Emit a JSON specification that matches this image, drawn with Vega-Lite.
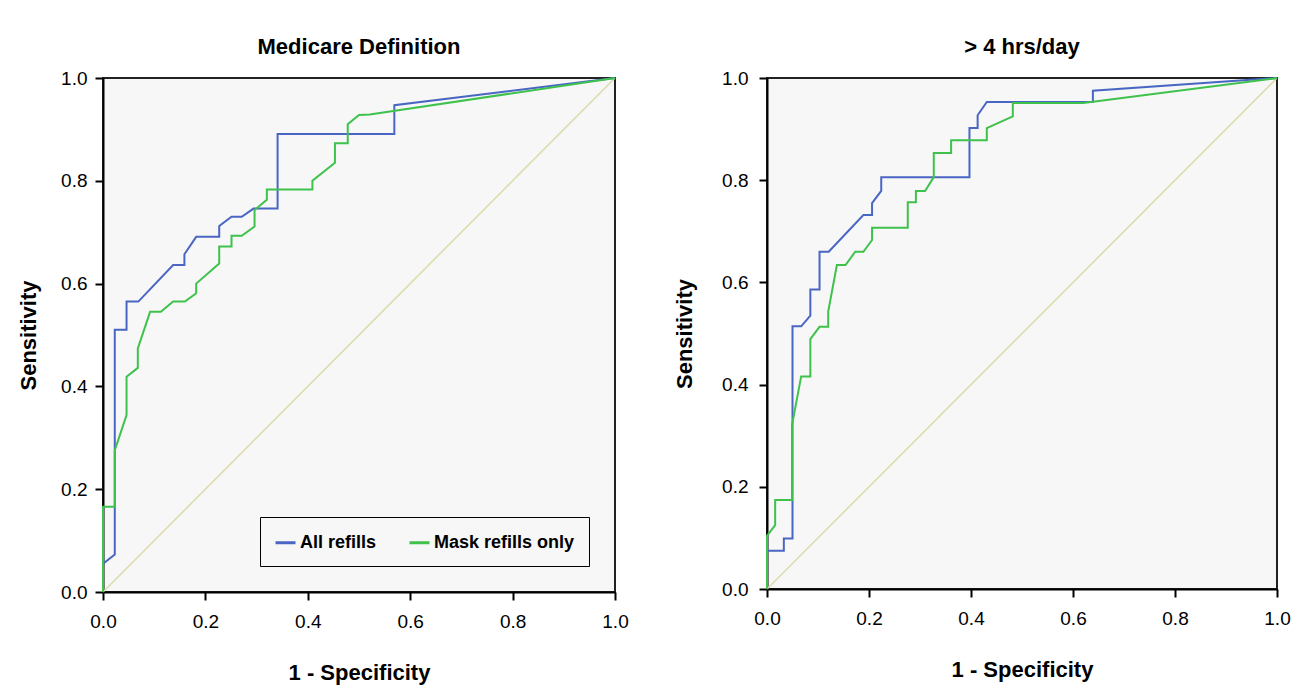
{
  "$schema": "https://vega.github.io/schema/vega-lite/v6.json",
  "background": "white",
  "padding": {"left": 16, "top": 35, "right": 5, "bottom": 5},
  "spacing": 42,
  "datasets": {
    "diag": [{"fpr": 0, "tpr": 0}, {"fpr": 1, "tpr": 1}],
    "medicare": [
      {"series": "All refills", "ord": 1, "fpr": 0, "tpr": 0},
      {"series": "All refills", "ord": 2, "fpr": 0, "tpr": 0.055},
      {"series": "All refills", "ord": 3, "fpr": 0.023, "tpr": 0.073},
      {"series": "All refills", "ord": 4, "fpr": 0.023, "tpr": 0.51},
      {"series": "All refills", "ord": 5, "fpr": 0.046, "tpr": 0.51},
      {"series": "All refills", "ord": 6, "fpr": 0.046, "tpr": 0.565},
      {"series": "All refills", "ord": 7, "fpr": 0.069, "tpr": 0.565},
      {"series": "All refills", "ord": 8, "fpr": 0.137, "tpr": 0.636},
      {"series": "All refills", "ord": 9, "fpr": 0.159, "tpr": 0.636},
      {"series": "All refills", "ord": 10, "fpr": 0.159, "tpr": 0.657},
      {"series": "All refills", "ord": 11, "fpr": 0.182, "tpr": 0.691},
      {"series": "All refills", "ord": 12, "fpr": 0.227, "tpr": 0.691},
      {"series": "All refills", "ord": 13, "fpr": 0.227, "tpr": 0.712},
      {"series": "All refills", "ord": 14, "fpr": 0.251, "tpr": 0.73},
      {"series": "All refills", "ord": 15, "fpr": 0.271, "tpr": 0.73},
      {"series": "All refills", "ord": 16, "fpr": 0.294, "tpr": 0.746},
      {"series": "All refills", "ord": 17, "fpr": 0.341, "tpr": 0.746},
      {"series": "All refills", "ord": 18, "fpr": 0.341, "tpr": 0.891},
      {"series": "All refills", "ord": 19, "fpr": 0.569, "tpr": 0.891},
      {"series": "All refills", "ord": 20, "fpr": 0.569, "tpr": 0.947},
      {"series": "All refills", "ord": 21, "fpr": 1, "tpr": 1},
      {"series": "Mask refills only", "ord": 1, "fpr": 0, "tpr": 0},
      {"series": "Mask refills only", "ord": 2, "fpr": 0, "tpr": 0.166},
      {"series": "Mask refills only", "ord": 3, "fpr": 0.023, "tpr": 0.166},
      {"series": "Mask refills only", "ord": 4, "fpr": 0.023, "tpr": 0.276},
      {"series": "Mask refills only", "ord": 5, "fpr": 0.046, "tpr": 0.344},
      {"series": "Mask refills only", "ord": 6, "fpr": 0.046, "tpr": 0.419},
      {"series": "Mask refills only", "ord": 7, "fpr": 0.068, "tpr": 0.436},
      {"series": "Mask refills only", "ord": 8, "fpr": 0.068, "tpr": 0.474},
      {"series": "Mask refills only", "ord": 9, "fpr": 0.092, "tpr": 0.545},
      {"series": "Mask refills only", "ord": 10, "fpr": 0.113, "tpr": 0.545},
      {"series": "Mask refills only", "ord": 11, "fpr": 0.137, "tpr": 0.565},
      {"series": "Mask refills only", "ord": 12, "fpr": 0.16, "tpr": 0.565},
      {"series": "Mask refills only", "ord": 13, "fpr": 0.182, "tpr": 0.581},
      {"series": "Mask refills only", "ord": 14, "fpr": 0.182, "tpr": 0.6},
      {"series": "Mask refills only", "ord": 15, "fpr": 0.227, "tpr": 0.639},
      {"series": "Mask refills only", "ord": 16, "fpr": 0.227, "tpr": 0.672},
      {"series": "Mask refills only", "ord": 17, "fpr": 0.251, "tpr": 0.672},
      {"series": "Mask refills only", "ord": 18, "fpr": 0.251, "tpr": 0.693},
      {"series": "Mask refills only", "ord": 19, "fpr": 0.271, "tpr": 0.693},
      {"series": "Mask refills only", "ord": 20, "fpr": 0.296, "tpr": 0.711},
      {"series": "Mask refills only", "ord": 21, "fpr": 0.296, "tpr": 0.743},
      {"series": "Mask refills only", "ord": 22, "fpr": 0.32, "tpr": 0.763},
      {"series": "Mask refills only", "ord": 23, "fpr": 0.32, "tpr": 0.783},
      {"series": "Mask refills only", "ord": 24, "fpr": 0.409, "tpr": 0.783},
      {"series": "Mask refills only", "ord": 25, "fpr": 0.409, "tpr": 0.8},
      {"series": "Mask refills only", "ord": 26, "fpr": 0.453, "tpr": 0.835},
      {"series": "Mask refills only", "ord": 27, "fpr": 0.453, "tpr": 0.873},
      {"series": "Mask refills only", "ord": 28, "fpr": 0.478, "tpr": 0.873},
      {"series": "Mask refills only", "ord": 29, "fpr": 0.478, "tpr": 0.91},
      {"series": "Mask refills only", "ord": 30, "fpr": 0.5, "tpr": 0.928},
      {"series": "Mask refills only", "ord": 31, "fpr": 0.521, "tpr": 0.929},
      {"series": "Mask refills only", "ord": 32, "fpr": 1, "tpr": 1}
    ],
    "hrs": [
      {"series": "All refills", "ord": 1, "fpr": 0, "tpr": 0},
      {"series": "All refills", "ord": 2, "fpr": 0, "tpr": 0.075},
      {"series": "All refills", "ord": 3, "fpr": 0.033, "tpr": 0.075},
      {"series": "All refills", "ord": 4, "fpr": 0.033, "tpr": 0.099},
      {"series": "All refills", "ord": 5, "fpr": 0.05, "tpr": 0.099},
      {"series": "All refills", "ord": 6, "fpr": 0.05, "tpr": 0.514},
      {"series": "All refills", "ord": 7, "fpr": 0.067, "tpr": 0.514},
      {"series": "All refills", "ord": 8, "fpr": 0.085, "tpr": 0.535},
      {"series": "All refills", "ord": 9, "fpr": 0.085, "tpr": 0.586},
      {"series": "All refills", "ord": 10, "fpr": 0.103, "tpr": 0.586},
      {"series": "All refills", "ord": 11, "fpr": 0.103, "tpr": 0.66},
      {"series": "All refills", "ord": 12, "fpr": 0.121, "tpr": 0.66},
      {"series": "All refills", "ord": 13, "fpr": 0.189, "tpr": 0.732},
      {"series": "All refills", "ord": 14, "fpr": 0.206, "tpr": 0.732},
      {"series": "All refills", "ord": 15, "fpr": 0.206, "tpr": 0.755},
      {"series": "All refills", "ord": 16, "fpr": 0.224, "tpr": 0.779},
      {"series": "All refills", "ord": 17, "fpr": 0.224, "tpr": 0.806},
      {"series": "All refills", "ord": 18, "fpr": 0.397, "tpr": 0.806},
      {"series": "All refills", "ord": 19, "fpr": 0.397, "tpr": 0.902},
      {"series": "All refills", "ord": 20, "fpr": 0.413, "tpr": 0.902},
      {"series": "All refills", "ord": 21, "fpr": 0.413, "tpr": 0.927},
      {"series": "All refills", "ord": 22, "fpr": 0.431, "tpr": 0.953},
      {"series": "All refills", "ord": 23, "fpr": 0.639, "tpr": 0.953},
      {"series": "All refills", "ord": 24, "fpr": 0.639, "tpr": 0.975},
      {"series": "All refills", "ord": 25, "fpr": 1, "tpr": 1},
      {"series": "Mask refills only", "ord": 1, "fpr": 0, "tpr": 0},
      {"series": "Mask refills only", "ord": 2, "fpr": 0, "tpr": 0.104},
      {"series": "Mask refills only", "ord": 3, "fpr": 0.016, "tpr": 0.125},
      {"series": "Mask refills only", "ord": 4, "fpr": 0.016, "tpr": 0.174},
      {"series": "Mask refills only", "ord": 5, "fpr": 0.049, "tpr": 0.174},
      {"series": "Mask refills only", "ord": 6, "fpr": 0.049, "tpr": 0.321},
      {"series": "Mask refills only", "ord": 7, "fpr": 0.067, "tpr": 0.416},
      {"series": "Mask refills only", "ord": 8, "fpr": 0.085, "tpr": 0.416},
      {"series": "Mask refills only", "ord": 9, "fpr": 0.085, "tpr": 0.489},
      {"series": "Mask refills only", "ord": 10, "fpr": 0.103, "tpr": 0.513},
      {"series": "Mask refills only", "ord": 11, "fpr": 0.12, "tpr": 0.513},
      {"series": "Mask refills only", "ord": 12, "fpr": 0.12, "tpr": 0.543},
      {"series": "Mask refills only", "ord": 13, "fpr": 0.137, "tpr": 0.634},
      {"series": "Mask refills only", "ord": 14, "fpr": 0.154, "tpr": 0.634},
      {"series": "Mask refills only", "ord": 15, "fpr": 0.173, "tpr": 0.66},
      {"series": "Mask refills only", "ord": 16, "fpr": 0.189, "tpr": 0.66},
      {"series": "Mask refills only", "ord": 17, "fpr": 0.206, "tpr": 0.683},
      {"series": "Mask refills only", "ord": 18, "fpr": 0.206, "tpr": 0.707},
      {"series": "Mask refills only", "ord": 19, "fpr": 0.276, "tpr": 0.707},
      {"series": "Mask refills only", "ord": 20, "fpr": 0.276, "tpr": 0.757},
      {"series": "Mask refills only", "ord": 21, "fpr": 0.292, "tpr": 0.757},
      {"series": "Mask refills only", "ord": 22, "fpr": 0.292, "tpr": 0.779},
      {"series": "Mask refills only", "ord": 23, "fpr": 0.31, "tpr": 0.779},
      {"series": "Mask refills only", "ord": 24, "fpr": 0.327, "tpr": 0.806},
      {"series": "Mask refills only", "ord": 25, "fpr": 0.327, "tpr": 0.853},
      {"series": "Mask refills only", "ord": 26, "fpr": 0.361, "tpr": 0.853},
      {"series": "Mask refills only", "ord": 27, "fpr": 0.361, "tpr": 0.878},
      {"series": "Mask refills only", "ord": 28, "fpr": 0.431, "tpr": 0.878},
      {"series": "Mask refills only", "ord": 29, "fpr": 0.431, "tpr": 0.902},
      {"series": "Mask refills only", "ord": 30, "fpr": 0.482, "tpr": 0.925},
      {"series": "Mask refills only", "ord": 31, "fpr": 0.482, "tpr": 0.951},
      {"series": "Mask refills only", "ord": 32, "fpr": 0.62, "tpr": 0.951},
      {"series": "Mask refills only", "ord": 33, "fpr": 1, "tpr": 1}
    ]
  },
  "config": {
    "font": "Liberation Sans",
    "view": {"fill": "#f7f7f7", "stroke": "#222222", "strokeWidth": 2},
    "axis": {
      "domainColor": "#000000", "domainWidth": 2,
      "tickColor": "#000000", "tickWidth": 2, "tickSize": 8,
      "labelFont": "Liberation Sans", "labelFontSize": 19, "labelColor": "#000000",
      "titleFont": "Liberation Sans", "titleFontSize": 22, "titleFontWeight": "bold", "titleColor": "#000000",
      "grid": false, "labelFlush": false
    },
    "title": {"font": "Liberation Sans", "fontSize": 22, "fontWeight": "bold", "color": "#000000", "offset": 10}
  },
  "resolve": {"scale": {"color": "independent"}, "legend": {"color": "independent"}},
  "hconcat": [
    {
      "title": "Medicare Definition",
      "width": 512,
      "height": 514,
      "layer": [
        {
          "data": {"name": "diag"},
          "mark": {"type": "line", "color": "#dcdcac", "strokeWidth": 1.6},
          "encoding": {
            "x": {"field": "fpr", "type": "quantitative"},
            "y": {"field": "tpr", "type": "quantitative"}
          }
        },
        {
          "data": {"name": "medicare"},
          "mark": {"type": "line", "strokeWidth": 2},
          "encoding": {
            "x": {"field": "fpr", "type": "quantitative", "scale": {"domain": [0, 1]},
              "axis": {"title": "1 - Specificity", "values": [0, 0.2, 0.4, 0.6, 0.8, 1], "format": ".1f", "labelPadding": 12, "titlePadding": 31}},
            "y": {"field": "tpr", "type": "quantitative", "scale": {"domain": [0, 1]},
              "axis": {"title": "Sensitivity", "values": [0, 0.2, 0.4, 0.6, 0.8, 1], "format": ".1f", "labelPadding": 8, "titlePadding": 20}},
            "color": {"field": "series", "type": "nominal",
              "scale": {"domain": ["All refills", "Mask refills only"], "range": ["#4a66c4", "#3ec24c"]},
              "legend": {"title": null, "orient": "none", "legendX": 157, "legendY": 439, "direction": "horizontal",
                "symbolType": "stroke", "symbolStrokeWidth": 3, "symbolSize": 400,
                "labelFontSize": 18, "labelFontWeight": "bold", "labelColor": "#000000", "labelFont": "Liberation Sans",
                "strokeColor": "#000000", "fillColor": "#f7f7f7", "padding": 14, "columnPadding": 26, "labelOffset": 3}},
            "order": {"field": "ord", "type": "quantitative"}
          }
        }
      ]
    },
    {
      "title": "> 4 hrs/day",
      "width": 510,
      "height": 511,
      "layer": [
        {
          "data": {"name": "diag"},
          "mark": {"type": "line", "color": "#dcdcac", "strokeWidth": 1.6},
          "encoding": {
            "x": {"field": "fpr", "type": "quantitative"},
            "y": {"field": "tpr", "type": "quantitative"}
          }
        },
        {
          "data": {"name": "hrs"},
          "mark": {"type": "line", "strokeWidth": 2},
          "encoding": {
            "x": {"field": "fpr", "type": "quantitative", "scale": {"domain": [0, 1]},
              "axis": {"title": "1 - Specificity", "values": [0, 0.2, 0.4, 0.6, 0.8, 1], "format": ".1f", "labelPadding": 12, "titlePadding": 31}},
            "y": {"field": "tpr", "type": "quantitative", "scale": {"domain": [0, 1]},
              "axis": {"title": "Sensitivity", "values": [0, 0.2, 0.4, 0.6, 0.8, 1], "format": ".1f", "labelPadding": 11, "titlePadding": 25}},
            "color": {"field": "series", "type": "nominal",
              "scale": {"domain": ["All refills", "Mask refills only"], "range": ["#4a66c4", "#3ec24c"]},
              "legend": null},
            "order": {"field": "ord", "type": "quantitative"}
          }
        }
      ]
    }
  ]
}
